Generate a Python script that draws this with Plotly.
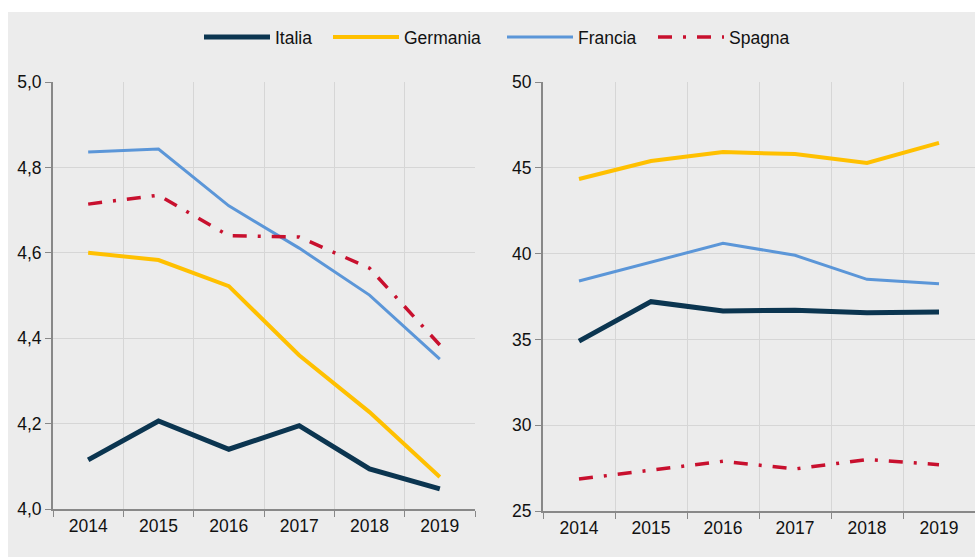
import plotly.graph_objects as go

years = ["2014", "2015", "2016", "2017", "2018", "2019"]

# Left panel
italia_l = [4.115, 4.206, 4.14, 4.195, 4.094, 4.047]
germania_l = [4.60, 4.583, 4.522, 4.36, 4.227, 4.075]
francia_l = [4.836, 4.843, 4.71, 4.611, 4.501, 4.351]
spagna_l = [4.714, 4.735, 4.64, 4.637, 4.564, 4.384]

# Right panel
italia_r = [34.9, 37.2, 36.65, 36.7, 36.55, 36.6]
germania_r = [44.35, 45.4, 45.92, 45.8, 45.28, 46.45]
francia_r = [38.4, 39.5, 40.6, 39.9, 38.5, 38.25]
spagna_r = [26.86, 27.4, 27.9, 27.45, 28.0, 27.7]

left_ticks = [4.0, 4.2, 4.4, 4.6, 4.8, 5.0]
right_ticks = [25, 30, 35, 40, 45, 50]

W, H = 975, 557


def px(x):
    return x / W


def py(y):
    return 1 - y / H


series = [
    ("Italia", italia_l, italia_r, dict(color="#0b3550", width=5), "legend", 204),
    ("Germania", germania_l, germania_r, dict(color="#ffc000", width=4), "legend2", 333),
    ("Francia", francia_l, francia_r, dict(color="#5b96d8", width=3), "legend3", 507),
    ("Spagna", spagna_l, spagna_r,
     dict(color="#c8102e", width=3.5, dash="14px,11px,3px,11px"), "legend4", 658),
]

font = dict(family="Liberation Sans, Arial, sans-serif", size=17.5, color="#111111")

fig = go.Figure()
legends = {}
for name, yl, yr, line, lg, lx in series:
    fig.add_trace(go.Scatter(x=years, y=yl, name=name, mode="lines", line=line,
                             xaxis="x", yaxis="y", showlegend=True, legend=lg))
    fig.add_trace(go.Scatter(x=years, y=yr, name=name, mode="lines", line=line,
                             xaxis="x2", yaxis="y2", showlegend=False, legend=lg))
    legends[lg] = dict(orientation="h", x=px(lx - 5), xanchor="left", y=py(37),
                       yanchor="middle", font=font, itemwidth=66,
                       bgcolor="rgba(0,0,0,0)", borderwidth=0)

xcommon = dict(type="category", tickson="boundaries", ticks="outside", ticklen=6,
               tickcolor="#888888", showline=True, linecolor="#888888", linewidth=2,
               showgrid=True, gridcolor="#d6d6d6", gridwidth=1, tickfont=font,
               range=[-0.5, 5.5], fixedrange=True, automargin=False)
ycommon = dict(ticks="outside", ticklen=6, tickcolor="#888888", showline=True,
               linecolor="#888888", linewidth=2, showgrid=True, gridcolor="#d6d6d6",
               gridwidth=1, tickfont=font, zeroline=False, fixedrange=True,
               automargin=False)

fig.update_layout(
    width=W, height=H,
    margin=dict(l=0, r=0, t=0, b=0, pad=0, autoexpand=False),
    paper_bgcolor="white",
    plot_bgcolor="rgba(0,0,0,0)",
    separators=",.",
    font=font,
    xaxis=dict(xcommon, domain=[px(53), px(475)], anchor="y"),
    yaxis=dict(ycommon, domain=[py(509), py(82)], anchor="x",
               range=[4.0, 5.0], tickvals=left_ticks, tickformat=".1f"),
    xaxis2=dict(xcommon, domain=[px(543), 1.0], anchor="y2"),
    yaxis2=dict(ycommon, domain=[py(511), py(82)], anchor="x2",
                range=[25, 50], tickvals=right_ticks),
    shapes=[dict(type="rect", xref="paper", yref="paper", x0=px(8), x1=1.0,
                 y0=0, y1=py(12), fillcolor="#ececec", line=dict(width=0),
                 layer="below")],
    **legends,
)

fig.write_html(
    "out.html",
    config={"displayModeBar": False},
    post_script=(
        "document.documentElement.style.margin='0';"
        "document.body.style.margin='0';"
        "document.body.style.overflow='hidden';"
    ),
)
